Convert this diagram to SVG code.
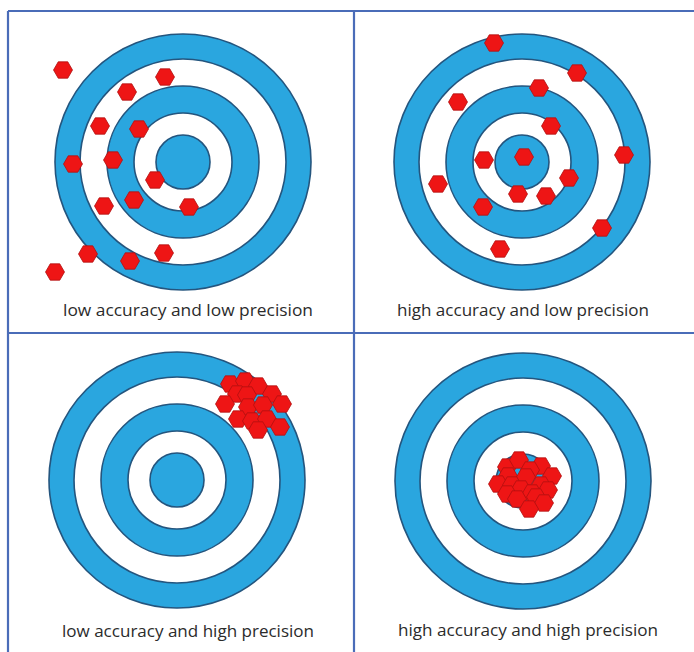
<svg xmlns="http://www.w3.org/2000/svg" xmlns:xlink="http://www.w3.org/1999/xlink" width="694" height="652" viewBox="0 0 694 652">
<style>
.b{fill:#2aa6df;stroke:#24557e;stroke-width:1.6}
.w{fill:#ffffff;stroke:#24557e;stroke-width:1.6}
.lbl{font-family:"Open Sans","Liberation Sans",sans-serif;font-size:17px;fill:#2b2b2b;text-anchor:middle}
.grid{stroke:#4a6cb8;stroke-width:2.2;fill:none}
</style>
<defs>
<polygon id="hx" points="9.5,0 4.75,8.2 -4.75,8.2 -9.5,0 -4.75,-8.2 4.75,-8.2" fill="#ee1515" stroke="#b01010" stroke-width="0.8"/>
<g id="tgt">
<circle class="b" r="128"/>
<circle class="w" r="103"/>
<circle class="b" r="76"/>
<circle class="w" r="49"/>
<circle class="b" r="27"/>
</g>
</defs>
<rect width="694" height="652" fill="#ffffff"/>
<g id="connectors">
<path class="grid" d="M8,11 H694 M8,11 V652 M354,11 V652 M8,333 H694"/>
</g>
<g id="panel1">
<use xlink:href="#tgt" x="183" y="162"/>
<use xlink:href="#hx" x="63" y="70"/>
<use xlink:href="#hx" x="165" y="77"/>
<use xlink:href="#hx" x="127" y="92"/>
<use xlink:href="#hx" x="100" y="126"/>
<use xlink:href="#hx" x="139" y="129"/>
<use xlink:href="#hx" x="73" y="164"/>
<use xlink:href="#hx" x="113" y="160"/>
<use xlink:href="#hx" x="155" y="180"/>
<use xlink:href="#hx" x="104" y="206"/>
<use xlink:href="#hx" x="134" y="200"/>
<use xlink:href="#hx" x="189" y="207"/>
<use xlink:href="#hx" x="88" y="254"/>
<use xlink:href="#hx" x="130" y="261"/>
<use xlink:href="#hx" x="164" y="253"/>
<use xlink:href="#hx" x="55" y="272"/>
<text class="lbl" x="188" y="316" textLength="250" lengthAdjust="spacingAndGlyphs">low accuracy and low precision</text>
</g>
<g id="panel2">
<use xlink:href="#tgt" x="522" y="162"/>
<use xlink:href="#hx" x="494" y="43"/>
<use xlink:href="#hx" x="577" y="73"/>
<use xlink:href="#hx" x="539" y="88"/>
<use xlink:href="#hx" x="458" y="102"/>
<use xlink:href="#hx" x="551" y="126"/>
<use xlink:href="#hx" x="524" y="157"/>
<use xlink:href="#hx" x="484" y="160"/>
<use xlink:href="#hx" x="624" y="155"/>
<use xlink:href="#hx" x="569" y="178"/>
<use xlink:href="#hx" x="438" y="184"/>
<use xlink:href="#hx" x="518" y="194"/>
<use xlink:href="#hx" x="546" y="196"/>
<use xlink:href="#hx" x="483" y="207"/>
<use xlink:href="#hx" x="602" y="228"/>
<use xlink:href="#hx" x="500" y="249"/>
<text class="lbl" x="523" y="316" textLength="252" lengthAdjust="spacingAndGlyphs">high accuracy and low precision</text>
</g>
<g id="panel3">
<use xlink:href="#tgt" x="177" y="480"/>
<use xlink:href="#hx" x="230" y="384"/>
<use xlink:href="#hx" x="245" y="381"/>
<use xlink:href="#hx" x="258" y="386"/>
<use xlink:href="#hx" x="237" y="394"/>
<use xlink:href="#hx" x="247" y="395"/>
<use xlink:href="#hx" x="272" y="394"/>
<use xlink:href="#hx" x="225" y="404"/>
<use xlink:href="#hx" x="248" y="407"/>
<use xlink:href="#hx" x="263" y="405"/>
<use xlink:href="#hx" x="282" y="404"/>
<use xlink:href="#hx" x="238" y="419"/>
<use xlink:href="#hx" x="252" y="421"/>
<use xlink:href="#hx" x="267" y="419"/>
<use xlink:href="#hx" x="280" y="427"/>
<use xlink:href="#hx" x="258" y="430"/>
<text class="lbl" x="188" y="637" textLength="252" lengthAdjust="spacingAndGlyphs">low accuracy and high precision</text>
</g>
<g id="panel4">
<use xlink:href="#tgt" x="523" y="481"/>
<use xlink:href="#hx" x="507" y="467"/>
<use xlink:href="#hx" x="519" y="460"/>
<use xlink:href="#hx" x="541" y="466"/>
<use xlink:href="#hx" x="530" y="470"/>
<use xlink:href="#hx" x="508" y="476"/>
<use xlink:href="#hx" x="526" y="477"/>
<use xlink:href="#hx" x="552" y="476"/>
<use xlink:href="#hx" x="498" y="484"/>
<use xlink:href="#hx" x="512" y="485"/>
<use xlink:href="#hx" x="541" y="485"/>
<use xlink:href="#hx" x="521" y="489"/>
<use xlink:href="#hx" x="548" y="490"/>
<use xlink:href="#hx" x="532" y="493"/>
<use xlink:href="#hx" x="507" y="494"/>
<use xlink:href="#hx" x="536" y="497"/>
<use xlink:href="#hx" x="544" y="503"/>
<use xlink:href="#hx" x="517" y="499"/>
<use xlink:href="#hx" x="529" y="509"/>
<text class="lbl" x="528" y="636" textLength="260" lengthAdjust="spacingAndGlyphs">high accuracy and high precision</text>
</g>
</svg>
